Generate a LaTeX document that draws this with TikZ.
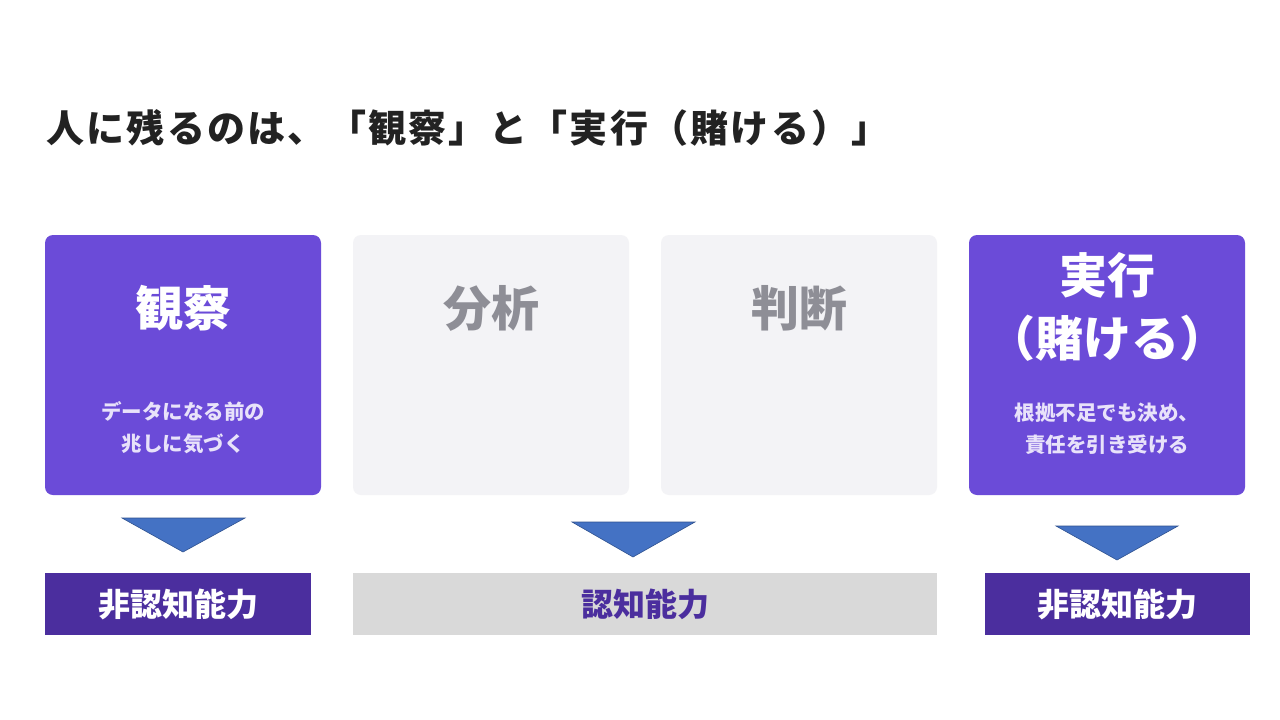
\documentclass[tikz,border=0pt]{standalone}
\usepackage{fontspec}
\setmainfont{Noto Sans CJK JP}
\definecolor{purpleA}{HTML}{6B4BD8}
\definecolor{purpleD}{HTML}{4B2E9E}
\definecolor{paleG}{HTML}{F3F3F6}
\definecolor{grayT}{HTML}{8E8E96}
\definecolor{subT}{HTML}{E8E2FA}
\definecolor{triF}{HTML}{4472C4}
\definecolor{triD}{HTML}{2F528F}
\definecolor{barG}{HTML}{D9D9D9}
\definecolor{titleT}{HTML}{222222}
\tikzset{
  card/.style={rounded corners=8pt, draw=none},
  hot/.style={card, fill=purpleA},
  cold/.style={card, fill=paleG},
  big/.style={font=\fontsize{48}{63}\selectfont\bfseries, align=center},
  small/.style={font=\fontsize{20.5}{32}\selectfont\bfseries, align=center, text=subT},
  tri/.style={fill=triF, draw=triD, line width=0.6pt},
  bar/.style={draw=none, font=\fontsize{32}{36}\selectfont\bfseries},
}
\begin{document}
\begin{tikzpicture}[x=1pt,y=-1pt]
\useasboundingbox (0,0) rectangle (1280,720);
\fill[white] (0,0) rectangle (1280,720);
\node[anchor=west, text=titleT, font=\fontsize{38}{42}\selectfont\bfseries\addfontfeature{LetterSpace=6}, inner sep=0pt] (title) at (46,128) {人に残るのは、「観察」と「実行（賭ける）」};
% cards
\draw[hot] (45,235) rectangle (321,495);
\draw[cold] (353,235) rectangle (629,495);
\draw[cold] (661,235) rectangle (937,495);
\draw[hot] (969,235) rectangle (1245,495);
\node[big, text=white] (t1) at (183,308) {観察};
\node[big, text=grayT] (t2) at (491,308) {分析};
\node[big, text=grayT] (t3) at (799,308) {判断};
\node[big, text=white] (t4) at (1107,307) {実行\\（賭ける）};
\node[small] (s1) at (183,428) {データになる前の\\兆しに気づく};
\node[small] (s4) at (1107,429) {根拠不足でも決め、\\責任を引き受ける};
% triangles
\coordinate (a1l) at (122,518); \coordinate (a1r) at (245,518); \coordinate (a1b) at (183,552);
\coordinate (a2l) at (572,522); \coordinate (a2r) at (695,522); \coordinate (a2b) at (633,557);
\coordinate (a3l) at (1056,526); \coordinate (a3r) at (1178,526); \coordinate (a3b) at (1117,560);
\draw[tri] (a1l) -- (a1r) -- (a1b) -- cycle;
\draw[tri] (a2l) -- (a2r) -- (a2b) -- cycle;
\draw[tri] (a3l) -- (a3r) -- (a3b) -- cycle;
% bars
\fill[purpleD] (45,573) rectangle (311,635);
\node[bar, text=white] (b1) at (178,604) {非認知能力};
\fill[barG] (353,573) rectangle (937,635);
\node[bar, text=purpleD] (b2) at (645,604) {認知能力};
\fill[purpleD] (985,573) rectangle (1250,635);
\node[bar, text=white] (b3) at (1117,604) {非認知能力};
\end{tikzpicture}
\end{document}
